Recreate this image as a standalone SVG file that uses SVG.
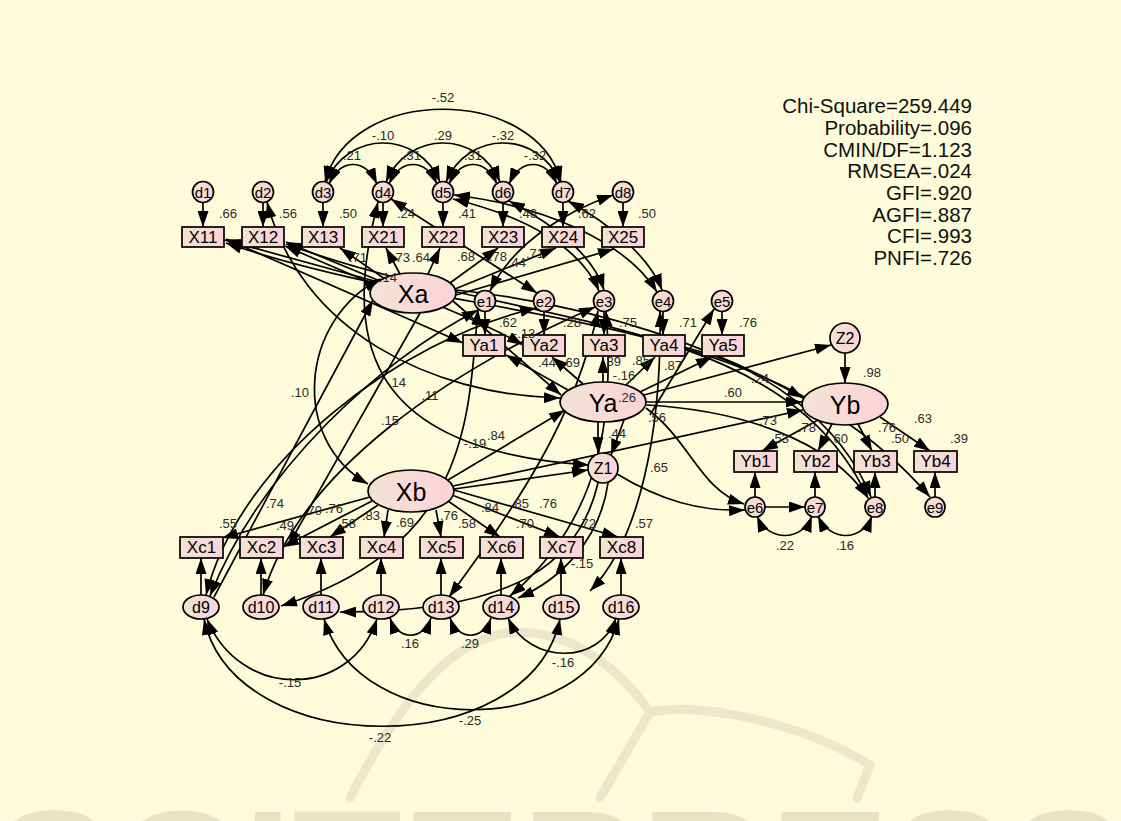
<svg xmlns="http://www.w3.org/2000/svg" width="1121" height="821" viewBox="0 0 1121 821">
<defs>
<linearGradient id="fillG" x1="0" y1="0" x2="1" y2="0">
<stop offset="0" stop-color="#F4E3D3"/>
<stop offset="1" stop-color="#FBD2DA"/>
</linearGradient>
<marker id="arw" viewBox="0 0 16 11" refX="16" refY="5.5" markerWidth="16" markerHeight="11" markerUnits="userSpaceOnUse" orient="auto-start-reverse">
<path d="M0,0 L16,5.5 L0,11 z" fill="#000"/>
</marker>
<style>
.bg{fill:#FDFBDA}
.wm{fill:none;stroke:#EAE7CA;stroke-width:9;stroke-linecap:round}
.wmt{fill:#E7E4C6;font-family:"Liberation Sans",Arial,sans-serif;font-weight:bold}
.n{fill:url(#fillG);stroke:#000;stroke-width:1.7}
.c{fill:none;stroke:#000;stroke-width:1.7}
.one{marker-end:url(#arw)}
.two{marker-start:url(#arw);marker-end:url(#arw)}
.t{font-family:"Liberation Sans",Arial,sans-serif;text-anchor:middle;dominant-baseline:central;fill:#000}
.obs{font-size:17px}
.err{font-size:15px}
.errb{font-size:16px}
.lat{font-size:25px}
.lb{font-family:"Liberation Sans",Arial,sans-serif;font-size:13px;text-anchor:middle;dominant-baseline:central;fill:#2a2a2a}
.fit{font-family:"Liberation Sans",Arial,sans-serif;font-size:20.5px;text-anchor:end;fill:#111}
</style>
</defs>

<rect class="bg" x="0" y="0" width="1121" height="821"/>

<!-- faint background logo -->
<g id="watermark">
<path class="wm" d="M350,798 C400,700 450,642 505,633 C570,626 620,670 650,712"/>
<path class="wm" d="M650,712 L600,798"/>
<path class="wm" d="M650,712 C700,702 800,722 870,765 L857,798"/>
<text class="wmt" x="-6" y="931" font-size="172" textLength="1134" lengthAdjust="spacingAndGlyphs">SCITEPRESS</text>
</g>

<!-- paths, loadings and covariances -->
<g id="connectors">
<!-- covariances among d1..d8 -->
<path class="c two" d="M329,184 C341,158 365,158 377,184"/>
<path class="c two" d="M389,184 C401,158 425,158 437,184"/>
<path class="c two" d="M449,184 C461,158 485,158 497,184"/>
<path class="c two" d="M509,184 C521,158 545,158 557,184"/>
<path class="c two" d="M326,182 C348,130 418,130 440,182"/>
<path class="c two" d="M386,182 C408,130 478,130 500,182"/>
<path class="c two" d="M446,182 C468,130 538,130 560,182"/>
<path class="c two" d="M325,182 C350,85 536,85 561,182"/>
<!-- errors to observed X -->
<path class="c one" d="M203,202.5 L203,227"/>
<path class="c one" d="M263,202.5 L263,227"/>
<path class="c one" d="M323,202.5 L323,227"/>
<path class="c one" d="M383,202.5 L383,227"/>
<path class="c one" d="M443,202.5 L443,227"/>
<path class="c one" d="M503,202.5 L503,227"/>
<path class="c one" d="M563,202.5 L563,227"/>
<path class="c one" d="M623,202.5 L623,227"/>
<!-- Xa loadings -->
<path class="c one" d="M378,282 L225,240"/>
<path class="c one" d="M380,287 L285,246"/>
<path class="c one" d="M385,279 L340,248"/>
<path class="c one" d="M400,274 L386,248"/>
<path class="c one" d="M428,274 L440,248"/>
<path class="c one" d="M450,283 L498,248"/>
<path class="c one" d="M455,289 L556,248"/>
<path class="c one" d="M456,295 L614,249"/>
<!-- d to e covariances -->
<path class="c two" d="M391,199 L537,293"/>
<path class="c two" d="M454,195 C540,205 625,240 657,292"/>
<path class="c two" d="M453,199 C520,215 580,245 599,291"/>
<path class="c two" d="M613,195 C570,210 515,240 490,291"/>
<path class="c two" d="M509,201 C560,228 594,258 604,290"/>
<path class="c two" d="M568,201 C612,225 650,258 662,290"/>
<path class="c two" d="M267,202 C300,330 430,395 560,398"/>
<path class="c two" d="M378,202 C345,330 355,450 589,465"/>
<!-- long covariances across the middle -->
<path class="c two" d="M226,243 C480,330 760,300 930,497"/>
<path class="c two" d="M286,244 C520,330 780,310 868,498"/>
<path class="c two" d="M226,239 L463,343"/>
<path class="c two" d="M286,242 C400,290 480,320 523,345"/>
<path class="c two" d="M206,595 C240,460 400,340 536,308"/>
<path class="c two" d="M263,595 C300,470 450,370 595,307"/>
<path class="c two" d="M210,596 C260,470 380,360 478,310"/>
<path class="c one" d="M214,597 L373,300"/>
<path class="c one" d="M420,313 L288,546"/>
<path class="c two" d="M380,279 C300,320 290,440 368,484"/>
<path class="c two" d="M478,309 C468,420 470,545 281,606"/>
<path class="c two" d="M598,311 C575,420 520,500 449,597"/>
<path class="c two" d="M606,311 C615,420 600,520 510,596"/>
<path class="c two" d="M660,311 C662,430 640,540 590,591"/>
<!-- errors to Ya indicators -->
<path class="c one" d="M485,311.5 L485,335"/>
<path class="c one" d="M544,311.5 L544,335"/>
<path class="c one" d="M604,311.5 L604,335"/>
<path class="c one" d="M663,311.5 L663,335"/>
<path class="c one" d="M722,311.5 L722,335"/>
<!-- Ya loadings -->
<path class="c one" d="M568,390 L506,355"/>
<path class="c one" d="M583,384 L552,357"/>
<path class="c one" d="M603,382 L603,357"/>
<path class="c one" d="M626,385 L655,357"/>
<path class="c one" d="M640,392 L712,357"/>
<path class="c one" d="M650,415 L714,309"/>
<!-- structural paths -->
<path class="c one" d="M453,301 L561,395"/>
<path class="c one" d="M448,480 L565,410"/>
<path class="c one" d="M646,402 L802,402"/>
<path class="c one" d="M644,395 L831,345"/>
<path class="c one" d="M456,290 C600,305 720,350 803,398"/>
<path class="c one" d="M453,486 L803,410"/>
<path class="c one" d="M454,489 L588,470"/>
<path class="c one" d="M598,422 L598,453"/>
<path class="c one" d="M624,420 L611,455"/>
<path class="c one" d="M845,353 L845,383"/>
<!-- Yb loadings -->
<path class="c one" d="M818,420 L762,451"/>
<path class="c one" d="M832,424 L818,451"/>
<path class="c one" d="M858,424 L872,451"/>
<path class="c one" d="M880,417 L930,451"/>
<path class="c one" d="M755,497 L755,472"/>
<path class="c one" d="M815,497 L815,472"/>
<path class="c one" d="M875,497 L875,472"/>
<path class="c one" d="M935,497 L935,472"/>
<!-- e6..e9 region -->
<path class="c one" d="M646,408 C690,440 700,490 744,504"/>
<path class="c one" d="M617,474 C660,500 700,512 745,510"/>
<path class="c one" d="M765,507 L805,507"/>
<path class="c one" d="M646,405 C740,410 830,440 868,498"/>
<path class="c one" d="M684,347 C760,365 840,420 871,497"/>
<path class="c two" d="M757,516 C768,542 802,542 812,516"/>
<path class="c two" d="M818,516 C830,542 862,542 872,516"/>
<!-- Xb loadings -->
<path class="c one" d="M370,497 L222,538"/>
<path class="c one" d="M372,501 L283,547"/>
<path class="c one" d="M378,505 L330,537"/>
<path class="c one" d="M388,510 L384,537"/>
<path class="c one" d="M436,510 L441,537"/>
<path class="c one" d="M448,501 L500,537"/>
<path class="c one" d="M452,495 L560,537"/>
<path class="c one" d="M454,490 L618,537"/>
<!-- errors to Xc indicators -->
<path class="c one" d="M201,595 L201,558"/>
<path class="c one" d="M261,595 L261,558"/>
<path class="c one" d="M321,595 L321,558"/>
<path class="c one" d="M381,595 L381,558"/>
<path class="c one" d="M441,595 L441,558"/>
<path class="c one" d="M501,595 L501,558"/>
<path class="c one" d="M561,595 L561,558"/>
<path class="c one" d="M621,595 L621,558"/>
<!-- Z1 to lower errors -->
<path class="c one" d="M598,483 C580,560 520,612 340,612"/>
<path class="c one" d="M608,483 C600,540 560,580 518,598"/>
<!-- covariances among d9..d16 -->
<path class="c two" d="M390,618 C398,641 423,641 431,618"/>
<path class="c two" d="M450,618 C458,641 483,641 491,618"/>
<path class="c two" d="M508,618 C530,665 600,665 616,618"/>
<path class="c two" d="M207,619 C240,700 350,700 377,619"/>
<path class="c two" d="M324,619 C360,740 585,740 619,619"/>
<path class="c two" d="M204,619 C235,762 530,762 560,619"/>
</g>

<!-- top error terms -->
<g id="d1"><circle class="n" cx="203" cy="192" r="10.5"/><text class="t err" x="203" y="192">d1</text></g>
<g id="d2"><circle class="n" cx="263" cy="192" r="10.5"/><text class="t err" x="263" y="192">d2</text></g>
<g id="d3"><circle class="n" cx="323" cy="192" r="10.5"/><text class="t err" x="323" y="192">d3</text></g>
<g id="d4"><circle class="n" cx="383" cy="192" r="10.5"/><text class="t err" x="383" y="192">d4</text></g>
<g id="d5"><circle class="n" cx="443" cy="192" r="10.5"/><text class="t err" x="443" y="192">d5</text></g>
<g id="d6"><circle class="n" cx="503" cy="192" r="10.5"/><text class="t err" x="503" y="192">d6</text></g>
<g id="d7"><circle class="n" cx="563" cy="192" r="10.5"/><text class="t err" x="563" y="192">d7</text></g>
<g id="d8"><circle class="n" cx="623" cy="192" r="10.5"/><text class="t err" x="623" y="192">d8</text></g>

<!-- observed X indicators -->
<g id="X11"><rect class="n" x="182" y="227" width="42" height="20"/><text class="t obs" x="203" y="237">X11</text></g>
<g id="X12"><rect class="n" x="242" y="227" width="42" height="20"/><text class="t obs" x="263" y="237">X12</text></g>
<g id="X13"><rect class="n" x="302" y="227" width="42" height="20"/><text class="t obs" x="323" y="237">X13</text></g>
<g id="X21"><rect class="n" x="362" y="227" width="42" height="20"/><text class="t obs" x="383" y="237">X21</text></g>
<g id="X22"><rect class="n" x="422" y="227" width="42" height="20"/><text class="t obs" x="443" y="237">X22</text></g>
<g id="X23"><rect class="n" x="482" y="227" width="42" height="20"/><text class="t obs" x="503" y="237">X23</text></g>
<g id="X24"><rect class="n" x="542" y="227" width="42" height="20"/><text class="t obs" x="563" y="237">X24</text></g>
<g id="X25"><rect class="n" x="602" y="227" width="42" height="20"/><text class="t obs" x="623" y="237">X25</text></g>

<!-- latent variables -->
<g id="Xa"><ellipse class="n" cx="413" cy="293" rx="43" ry="20"/><text class="t lat" x="413" y="294">Xa</text></g>
<g id="Xb"><ellipse class="n" cx="411" cy="491" rx="43" ry="21"/><text class="t lat" x="411" y="492">Xb</text></g>
<g id="Ya"><ellipse class="n" cx="603" cy="402" rx="43" ry="20"/><text class="t lat" x="603" y="403">Ya</text></g>
<g id="Yb"><ellipse class="n" cx="845" cy="404" rx="43" ry="21"/><text class="t lat" x="845" y="405">Yb</text></g>
<g id="Z1"><circle class="n" cx="603" cy="468" r="15"/><text class="t errb" x="603" y="468">Z1</text></g>
<g id="Z2"><circle class="n" cx="845" cy="338" r="15"/><text class="t errb" x="845" y="338">Z2</text></g>

<!-- Ya errors and indicators -->
<g id="e1"><circle class="n" cx="485" cy="301" r="10.5"/><text class="t err" x="485" y="301">e1</text></g>
<g id="e2"><circle class="n" cx="544" cy="301" r="10.5"/><text class="t err" x="544" y="301">e2</text></g>
<g id="e3"><circle class="n" cx="604" cy="301" r="10.5"/><text class="t err" x="604" y="301">e3</text></g>
<g id="e4"><circle class="n" cx="663" cy="301" r="10.5"/><text class="t err" x="663" y="301">e4</text></g>
<g id="e5"><circle class="n" cx="722" cy="301" r="10.5"/><text class="t err" x="722" y="301">e5</text></g>
<g id="Ya1"><rect class="n" x="463" y="335" width="42" height="21"/><text class="t obs" x="484" y="345.5">Ya1</text></g>
<g id="Ya2"><rect class="n" x="523" y="335" width="42" height="21"/><text class="t obs" x="544" y="345.5">Ya2</text></g>
<g id="Ya3"><rect class="n" x="583" y="335" width="42" height="21"/><text class="t obs" x="604" y="345.5">Ya3</text></g>
<g id="Ya4"><rect class="n" x="643" y="335" width="42" height="21"/><text class="t obs" x="664" y="345.5">Ya4</text></g>
<g id="Ya5"><rect class="n" x="702" y="335" width="42" height="21"/><text class="t obs" x="723" y="345.5">Ya5</text></g>

<!-- Yb indicators and errors -->
<g id="Yb1"><rect class="n" x="734" y="451" width="43" height="21"/><text class="t obs" x="755.5" y="461.5">Yb1</text></g>
<g id="Yb2"><rect class="n" x="794" y="451" width="43" height="21"/><text class="t obs" x="815.5" y="461.5">Yb2</text></g>
<g id="Yb3"><rect class="n" x="854" y="451" width="43" height="21"/><text class="t obs" x="875.5" y="461.5">Yb3</text></g>
<g id="Yb4"><rect class="n" x="914" y="451" width="43" height="21"/><text class="t obs" x="935.5" y="461.5">Yb4</text></g>
<g id="e6"><circle class="n" cx="755" cy="507" r="10"/><text class="t err" x="755" y="507">e6</text></g>
<g id="e7"><circle class="n" cx="815" cy="507" r="10"/><text class="t err" x="815" y="507">e7</text></g>
<g id="e8"><circle class="n" cx="875" cy="507" r="10"/><text class="t err" x="875" y="507">e8</text></g>
<g id="e9"><circle class="n" cx="935" cy="507" r="10"/><text class="t err" x="935" y="507">e9</text></g>

<!-- Xc indicators and errors -->
<g id="Xc1"><rect class="n" x="180" y="537" width="43" height="21"/><text class="t obs" x="201.5" y="547.5">Xc1</text></g>
<g id="Xc2"><rect class="n" x="240" y="537" width="43" height="21"/><text class="t obs" x="261.5" y="547.5">Xc2</text></g>
<g id="Xc3"><rect class="n" x="300" y="537" width="43" height="21"/><text class="t obs" x="321.5" y="547.5">Xc3</text></g>
<g id="Xc4"><rect class="n" x="360" y="537" width="43" height="21"/><text class="t obs" x="381.5" y="547.5">Xc4</text></g>
<g id="Xc5"><rect class="n" x="420" y="537" width="43" height="21"/><text class="t obs" x="441.5" y="547.5">Xc5</text></g>
<g id="Xc6"><rect class="n" x="480" y="537" width="43" height="21"/><text class="t obs" x="501.5" y="547.5">Xc6</text></g>
<g id="Xc7"><rect class="n" x="540" y="537" width="43" height="21"/><text class="t obs" x="561.5" y="547.5">Xc7</text></g>
<g id="Xc8"><rect class="n" x="600" y="537" width="43" height="21"/><text class="t obs" x="621.5" y="547.5">Xc8</text></g>
<g id="d9"><ellipse class="n" cx="201" cy="607" rx="18" ry="12"/><text class="t errb" x="201" y="607">d9</text></g>
<g id="d10"><ellipse class="n" cx="261" cy="607" rx="18" ry="12"/><text class="t errb" x="261" y="607">d10</text></g>
<g id="d11"><ellipse class="n" cx="321" cy="607" rx="18" ry="12"/><text class="t errb" x="321" y="607">d11</text></g>
<g id="d12"><ellipse class="n" cx="381" cy="607" rx="18" ry="12"/><text class="t errb" x="381" y="607">d12</text></g>
<g id="d13"><ellipse class="n" cx="441" cy="607" rx="18" ry="12"/><text class="t errb" x="441" y="607">d13</text></g>
<g id="d14"><ellipse class="n" cx="501" cy="607" rx="18" ry="12"/><text class="t errb" x="501" y="607">d14</text></g>
<g id="d15"><ellipse class="n" cx="561" cy="607" rx="18" ry="12"/><text class="t errb" x="561" y="607">d15</text></g>
<g id="d16"><ellipse class="n" cx="621" cy="607" rx="18" ry="12"/><text class="t errb" x="621" y="607">d16</text></g>

<!-- coefficient labels -->
<g id="labels">
<text class="lb" x="443" y="97">-.52</text>
<text class="lb" x="383" y="135">-.10</text>
<text class="lb" x="443" y="135">.29</text>
<text class="lb" x="503" y="135">-.32</text>
<text class="lb" x="352" y="155">.21</text>
<text class="lb" x="412" y="155">.31</text>
<text class="lb" x="473" y="155">.31</text>
<text class="lb" x="535" y="155">-.32</text>
<text class="lb" x="228" y="213">.66</text>
<text class="lb" x="288" y="213">.56</text>
<text class="lb" x="348" y="213">.50</text>
<text class="lb" x="406" y="213">.24</text>
<text class="lb" x="467" y="213">.41</text>
<text class="lb" x="528" y="213">.46</text>
<text class="lb" x="587" y="213">.62</text>
<text class="lb" x="647" y="213">.50</text>
<text class="lb" x="358" y="257">.71</text>
<text class="lb" x="401" y="257">.73</text>
<text class="lb" x="421" y="257">.64</text>
<text class="lb" x="466" y="256">.68</text>
<text class="lb" x="498" y="256">.78</text>
<text class="lb" x="517" y="262">.44</text>
<text class="lb" x="535" y="253">.71</text>
<text class="lb" x="388" y="277">.14</text>
<text class="lb" x="508" y="322">.62</text>
<text class="lb" x="572" y="322">.28</text>
<text class="lb" x="628" y="322">.75</text>
<text class="lb" x="688" y="322">.71</text>
<text class="lb" x="748" y="322">.76</text>
<text class="lb" x="524" y="333">-.13</text>
<text class="lb" x="547" y="362">.44</text>
<text class="lb" x="571" y="362">.69</text>
<text class="lb" x="612" y="361">.89</text>
<text class="lb" x="624" y="375">-.16</text>
<text class="lb" x="641" y="360">.85</text>
<text class="lb" x="673" y="365">.87</text>
<text class="lb" x="627" y="397">.26</text>
<text class="lb" x="657" y="417">.56</text>
<text class="lb" x="617" y="433">.44</text>
<text class="lb" x="659" y="467">.65</text>
<text class="lb" x="496" y="435">.84</text>
<text class="lb" x="475" y="443">-.19</text>
<text class="lb" x="430" y="395">.11</text>
<text class="lb" x="397" y="382">.14</text>
<text class="lb" x="390" y="420">.15</text>
<text class="lb" x="300" y="392">.10</text>
<text class="lb" x="760" y="378">.24</text>
<text class="lb" x="733" y="392">.60</text>
<text class="lb" x="768" y="420">.73</text>
<text class="lb" x="780" y="438">.53</text>
<text class="lb" x="807" y="427">.78</text>
<text class="lb" x="839" y="438">.60</text>
<text class="lb" x="887" y="427">.76</text>
<text class="lb" x="900" y="438">.50</text>
<text class="lb" x="923" y="418">.63</text>
<text class="lb" x="959" y="438">.39</text>
<text class="lb" x="872" y="372">.98</text>
<text class="lb" x="785" y="545">.22</text>
<text class="lb" x="845" y="545">.16</text>
<text class="lb" x="275" y="503">.74</text>
<text class="lb" x="313" y="510">.70</text>
<text class="lb" x="334" y="508">.76</text>
<text class="lb" x="228" y="523">.55</text>
<text class="lb" x="285" y="525">.49</text>
<text class="lb" x="347" y="523">.58</text>
<text class="lb" x="371" y="515">.83</text>
<text class="lb" x="405" y="522">.69</text>
<text class="lb" x="449" y="515">.76</text>
<text class="lb" x="467" y="523">.58</text>
<text class="lb" x="490" y="507">.84</text>
<text class="lb" x="520" y="503">.85</text>
<text class="lb" x="548" y="503">.76</text>
<text class="lb" x="525" y="523">.70</text>
<text class="lb" x="587" y="523">.72</text>
<text class="lb" x="644" y="523">.57</text>
<text class="lb" x="582" y="563">-.15</text>
<text class="lb" x="410" y="643">.16</text>
<text class="lb" x="470" y="643">.29</text>
<text class="lb" x="563" y="662">-.16</text>
<text class="lb" x="290" y="682">-.15</text>
<text class="lb" x="470" y="720">-.25</text>
<text class="lb" x="380" y="737">-.22</text>
</g>

<!-- model fit summary -->
<g id="fit">
<text class="fit" x="972" y="113">Chi-Square=259.449</text>
<text class="fit" x="972" y="135">Probability=.096</text>
<text class="fit" x="972" y="157">CMIN/DF=1.123</text>
<text class="fit" x="972" y="178">RMSEA=.024</text>
<text class="fit" x="972" y="200">GFI=.920</text>
<text class="fit" x="972" y="222">AGFI=.887</text>
<text class="fit" x="972" y="243">CFI=.993</text>
<text class="fit" x="972" y="265">PNFI=.726</text>
</g>
</svg>
